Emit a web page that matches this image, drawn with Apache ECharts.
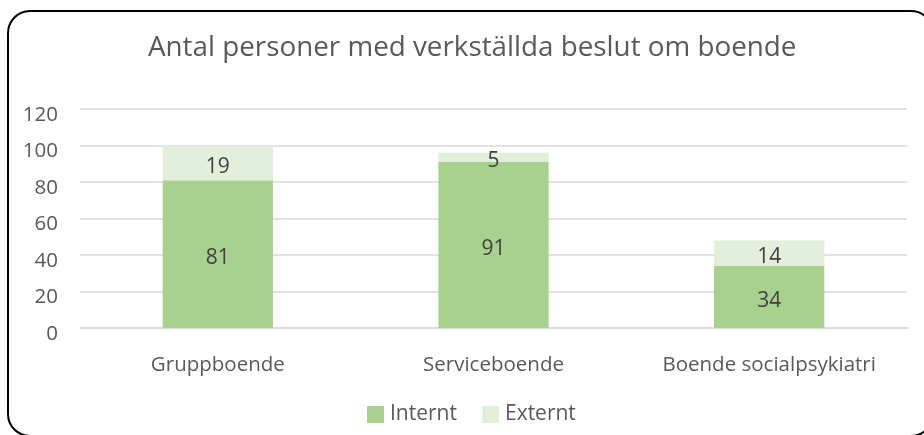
<!DOCTYPE html>
<html>
<head>
<meta charset="utf-8">
<script src="https://cdn.jsdelivr.net/npm/echarts@6/dist/echarts.min.js"></script>
<style>
html,body{margin:0;padding:0;background:#fff;}
#chart{width:924px;height:435px;}
</style>
</head>
<body>
<div id="chart"></div>
<script>
const titleText = 'Antal personer med verkställda beslut om boende';
const categories = ['Gruppboende', 'Serviceboende', 'Boende socialpsykiatri'];
const internt = [81, 91, 34];
const externt = [19, 5, 14];
const seriesNames = ['Internt', 'Externt'];
const yTicks = [0, 20, 40, 60, 80, 100, 120];

const FONT = 'Open Sans';
const chart = echarts.init(document.getElementById('chart'));
chart.setOption({
  animation: false,
  backgroundColor: '#ffffff',
  title: {
    text: titleText,
    left: 143,
    top: 29,
    textStyle: { fontFamily: FONT, fontSize: 27.8, fontWeight: 'normal', color: '#595959' }
  },
  legend: {
    data: seriesNames,
    left: 362,
    top: 399,
    itemWidth: 17,
    itemHeight: 17,
    itemGap: 25,
    icon: 'rect',
    textStyle: { fontFamily: FONT, fontSize: 21, color: '#595959', padding: [0, 0, 0, 1] }
  },
  grid: { left: 80, right: 17, top: 109, bottom: 107, containLabel: false },
  xAxis: {
    type: 'category',
    data: categories,
    axisLine: { lineStyle: { color: '#d9d9d9', width: 1.5 } },
    axisTick: { show: false },
    axisLabel: { interval: 0, fontFamily: FONT, fontSize: 20.5, color: '#595959', margin: 27 }
  },
  yAxis: {
    type: 'value',
    min: yTicks[0],
    max: yTicks[yTicks.length - 1],
    interval: 20,
    axisLine: { show: false },
    axisTick: { show: false },
    splitLine: { lineStyle: { color: '#d9d9d9', width: 1.5 } },
    axisLabel: { fontFamily: FONT, fontSize: 20.5, color: '#595959', margin: 22, verticalAlign: 'top', lineHeight: 12 }
  },
  series: [
    {
      name: seriesNames[0],
      type: 'bar',
      stack: 'total',
      data: internt,
      barWidth: '40%',
      itemStyle: { color: '#a9d18e' },
      label: { show: true, position: 'inside', offset: [0, 4], fontFamily: FONT, fontSize: 21, color: '#404040' }
    },
    {
      name: seriesNames[1],
      type: 'bar',
      stack: 'total',
      data: externt,
      barWidth: '40%',
      itemStyle: { color: '#e2efda' },
      label: { show: true, position: 'inside', offset: [0, 4], fontFamily: FONT, fontSize: 21, color: '#404040' }
    }
  ],
  graphic: [{
    type: 'rect',
    shape: { x: 8, y: 11, width: 925, height: 425, r: 22 },
    style: { fill: 'none', stroke: '#000000', lineWidth: 2 },
    z: 100
  }]
});
</script>
</body>
</html>
